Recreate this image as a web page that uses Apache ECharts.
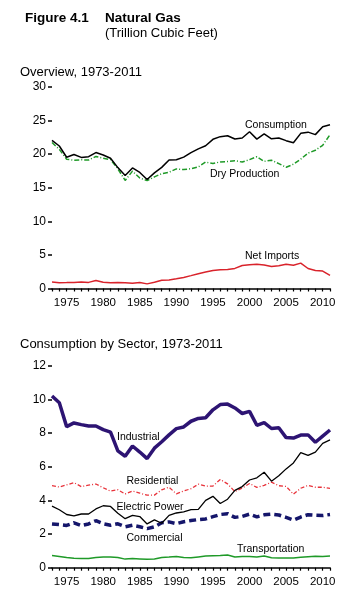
<!DOCTYPE html>
<html>
<head>
<meta charset="utf-8">
<script src="https://cdn.jsdelivr.net/npm/echarts@6/dist/echarts.min.js"></script>
<style>html,body{margin:0;padding:0;background:#fff;}#c{width:359px;height:603px;}</style>
</head>
<body>
<div id="c"></div>
<script>
var years = [];
for (var y = 1973; y <= 2011; y++) years.push(String(y));

var consumption = [22.05,21.22,19.54,19.95,19.52,19.63,20.24,19.88,19.40,18.00,16.83,17.95,17.28,16.22,17.21,18.03,19.12,19.17,19.56,20.23,20.79,21.25,22.21,22.61,22.74,22.25,22.41,23.33,22.24,23.01,22.28,22.40,22.01,21.70,23.10,23.28,22.91,24.09,24.37];
var dryProduction = [21.73,20.71,19.24,19.10,19.16,19.12,19.66,19.40,19.18,17.82,16.09,17.47,16.45,16.06,16.62,17.10,17.31,17.81,17.70,17.84,18.10,18.82,18.60,18.85,18.90,19.02,18.83,19.18,19.62,18.93,19.10,18.59,18.05,18.50,19.27,20.16,20.58,21.32,22.90];
var netImports = [0.96,0.87,0.88,0.90,0.96,0.91,1.20,0.94,0.85,0.88,0.87,0.79,0.89,0.69,0.94,1.22,1.27,1.45,1.64,1.92,2.21,2.46,2.69,2.78,2.84,2.99,3.42,3.54,3.60,3.50,3.26,3.40,3.61,3.46,3.78,2.98,2.68,2.60,1.95];

var industrial = [10.2,9.8,8.38,8.6,8.5,8.42,8.42,8.2,8.05,6.94,6.62,7.23,6.87,6.48,7.10,7.48,7.89,8.26,8.36,8.70,8.87,8.91,9.38,9.69,9.72,9.49,9.16,9.29,8.46,8.62,8.27,8.31,7.73,7.70,7.88,7.89,7.45,7.82,8.18];
var residential = [4.88,4.79,4.92,5.05,4.82,4.90,4.97,4.75,4.55,4.63,4.38,4.56,4.43,4.31,4.31,4.63,4.78,4.39,4.56,4.69,4.96,4.85,4.85,5.24,4.98,4.52,4.73,5.00,4.77,4.89,5.08,4.87,4.83,4.37,4.72,4.89,4.78,4.78,4.71];
var electricPower = [3.66,3.44,3.16,3.08,3.19,3.19,3.49,3.68,3.64,3.23,2.91,3.11,3.04,2.60,2.84,2.64,3.11,3.25,3.32,3.45,3.47,4.00,4.24,3.81,4.07,4.59,4.82,5.21,5.34,5.67,5.14,5.46,5.87,6.22,6.84,6.67,6.87,7.39,7.59];
var commercial = [2.60,2.56,2.51,2.67,2.50,2.60,2.79,2.61,2.52,2.61,2.43,2.52,2.43,2.32,2.43,2.67,2.72,2.62,2.73,2.80,2.86,2.90,3.03,3.16,3.21,2.99,3.05,3.18,3.02,3.14,3.18,3.13,2.99,2.83,3.01,3.15,3.12,3.10,3.16];
var transportation = [0.73,0.67,0.60,0.56,0.54,0.54,0.60,0.63,0.64,0.60,0.51,0.54,0.52,0.50,0.52,0.61,0.63,0.66,0.60,0.59,0.64,0.69,0.71,0.72,0.75,0.64,0.66,0.66,0.64,0.69,0.59,0.57,0.58,0.58,0.62,0.65,0.68,0.67,0.69];

var topTicks = {min: 0, max: 30, interval: 5};
var bottomTicks = {min: 0, max: 12, interval: 2};

var FONT = "'Liberation Sans', Arial, sans-serif";

function xAxisCfg(gi) {
  return {
    type: 'category', gridIndex: gi, data: years, boundaryGap: false,
    axisLine: {show: true, lineStyle: {color: '#000', width: 1.5}},
    axisTick: {show: true, interval: 0, length: 3, lineStyle: {color: '#000', width: 1.2}},
    axisLabel: {interval: function (i, v) { return (+v) % 5 === 0; }, color: '#000', fontSize: 11.5, fontFamily: FONT, margin: 8},
    splitLine: {show: false}
  };
}
function yAxisCfg(gi, t) {
  return {
    type: 'value', gridIndex: gi, min: t.min, max: t.max, interval: t.interval,
    axisLine: {show: false},
    axisTick: {show: true, length: 4, lineStyle: {color: '#000', width: 1.5}},
    axisLabel: {color: '#000', fontSize: 12, fontFamily: FONT, margin: 6},
    splitLine: {show: false}
  };
}
function line(name, xi, data, color, width, type) {
  return {
    name: name, type: 'line', xAxisIndex: xi, yAxisIndex: xi, data: data,
    symbol: 'none', smooth: false, animation: false,
    lineStyle: {color: color, width: width, type: type || 'solid'}
  };
}
function txt(text, x, y, size, bold) {
  return {type: 'text', x: x, y: y, silent: true,
    style: {text: text, fill: '#000', fontSize: size, fontWeight: bold ? 'bold' : 'normal', fontFamily: FONT, verticalAlign: 'middle', align: 'left'}};
}

var chart = echarts.init(document.getElementById('c'));
chart.setOption({
  animation: false,
  backgroundColor: '#fff',
  grid: [
    {left: 52, right: 29, top: 87, height: 201.5},
    {left: 52, right: 29, top: 365.7, height: 202}
  ],
  xAxis: [xAxisCfg(0), xAxisCfg(1)],
  yAxis: [yAxisCfg(0, topTicks), yAxisCfg(1, bottomTicks)],
  series: [
    line('Net Imports', 0, netImports, '#d9232b', 1.5),
    line('Dry Production', 0, dryProduction, '#1f9a28', 1.5, [5, 2, 1, 2]),
    line('Consumption', 0, consumption, '#000', 1.5),
    line('Transportation', 1, transportation, '#1f9a28', 1.5),
    line('Residential', 1, residential, '#e8323a', 1.3, [4, 2, 1, 2]),
    line('Commercial', 1, commercial, '#15166b', 3.5, [7, 4]),
    line('Electric Power', 1, electricPower, '#000', 1.3),
    line('Industrial', 1, industrial, '#2d1473', 3.5)
  ],
  graphic: [
    txt('Figure 4.1', 25, 18, 13.5, true),
    txt('Natural Gas', 105, 18, 13.5, true),
    txt('(Trillion Cubic Feet)', 105, 33.5, 13, false),
    txt('Overview, 1973-2011', 20, 72, 13, false),
    txt('Consumption by Sector, 1973-2011', 20, 344, 13, false),
    txt('Consumption', 245, 125, 10.5, false),
    txt('Dry Production', 210, 174.5, 10.5, false),
    txt('Net Imports', 245, 256, 10.5, false),
    txt('Industrial', 117, 437.5, 10.5, false),
    txt('Residential', 126.5, 481.5, 10.5, false),
    txt('Electric Power', 116.5, 507.5, 10.5, false),
    txt('Commercial', 126.5, 538.5, 10.5, false),
    txt('Transportation', 237, 549.5, 10.5, false)
  ]
});
</script>
</body>
</html>
